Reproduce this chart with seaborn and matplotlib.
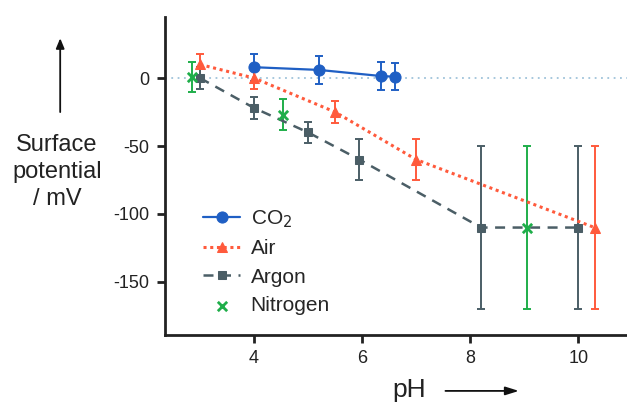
import matplotlib
matplotlib.use("Agg")
import matplotlib.pyplot as plt
import seaborn as sns
import numpy as np

sns.set_style("white")
plt.rcParams['font.family'] = ['Liberation Sans', 'DejaVu Sans']

# Data
co2_ph = [4.0, 5.2, 6.35, 6.6]
co2_mv = [8, 6, 1.5, 1]
co2_err = [10, 10, 10, 10]

air_ph = [3.0, 4.0, 5.5, 7.0, 10.3]
air_mv = [10, 0, -25, -60, -110]
air_err = [8, 8, 8, 15, 60]

argon_ph = [3.0, 4.0, 5.0, 5.95, 8.2, 10.0]
argon_mv = [0, -22, -40, -60, -110, -110]
argon_err = [8, 8, 8, 15, 60, 60]

n2_ph = [2.85, 4.53, 9.05]
n2_mv = [1, -27, -110]
n2_err = [11, 11.5, 60]

c_co2 = "#1f5fc4"
c_air = "#ff5a3c"
c_arg = "#4b5e66"
c_n2 = "#1fae4a"

fig = plt.figure(figsize=(6.27, 4.03), dpi=100)
ax = fig.add_axes([0.263, 0.169, 0.737, 0.789])

ax.axhline(0, color="#9fc3da", linestyle=(0, (1, 2.5)), linewidth=1.3, zorder=1)

ekw = dict(fmt="none", capsize=3, capthick=1.4, elinewidth=1.4)
ax.errorbar(co2_ph, co2_mv, yerr=co2_err, ecolor=c_co2, zorder=3, **ekw)
ax.errorbar(air_ph, air_mv, yerr=air_err, ecolor=c_air, zorder=3, **ekw)
ax.errorbar(argon_ph, argon_mv, yerr=argon_err, ecolor=c_arg, zorder=3, **ekw)
ax.errorbar(n2_ph, n2_mv, yerr=n2_err, ecolor=c_n2, zorder=3, **ekw)

sns.lineplot(x=co2_ph, y=co2_mv, ax=ax, color=c_co2, linewidth=1.6, marker="o",
             markersize=8, markeredgecolor=c_co2, label="CO$_2$", zorder=4)
sns.lineplot(x=air_ph, y=air_mv, ax=ax, color=c_air, linewidth=2.2, marker="^",
             linestyle=(0, (1, 1.2)), markersize=7, markeredgecolor=c_air, label="Air", zorder=4)
sns.lineplot(x=argon_ph, y=argon_mv, ax=ax, color=c_arg, linewidth=1.8, marker="s",
             linestyle=(0, (4, 3)), markersize=6, markeredgecolor=c_arg, label="Argon", zorder=4)
sns.scatterplot(x=n2_ph, y=n2_mv, ax=ax, color=c_n2, marker="x", s=45, linewidth=2,
                label="Nitrogen", zorder=5)

ax.set_xlim(2.35, 10.9)
ax.set_ylim(-189, 45)
ax.set_xticks([4, 6, 8, 10])
ax.set_yticks([0, -50, -100, -150])
ax.set_yticklabels(["0", "-50", "-100", "-150"])
ax.tick_params(axis="both", direction="out", length=6, width=2, color="#222222",
               labelsize=13, labelcolor="#222222", left=True, bottom=True, pad=5)
for s in ["top", "right"]:
    ax.spines[s].set_visible(False)
for s in ["left", "bottom"]:
    ax.spines[s].set_linewidth(2)
    ax.spines[s].set_color("#222222")
ax.set_xlabel("")
ax.set_ylabel("")

leg = ax.legend(loc="upper left", bbox_to_anchor=(0.055, 0.437), frameon=False,
                fontsize=15, labelspacing=0.45, handlelength=1.8, handletextpad=0.5,
                borderaxespad=0.2)

fig.text(0.091, 0.573, "Surface\npotential\n/ mV", ha="center", va="center",
         fontsize=17, color="#222222", linespacing=1.3)
fig.patches.append(matplotlib.patches.FancyArrowPatch(
    (0.096, 0.715), (0.096, 0.912), transform=fig.transFigure,
    arrowstyle="-|>,head_length=6,head_width=2.5", color="#111111", linewidth=1.3))
fig.text(0.652, 0.032, "pH", ha="center", va="center", fontsize=19, color="#222222")
fig.patches.append(matplotlib.patches.FancyArrowPatch(
    (0.706, 0.03), (0.832, 0.03), transform=fig.transFigure,
    arrowstyle="-|>,head_length=8,head_width=2.5", color="#111111", linewidth=1.3))

fig.savefig("out.png", dpi=100)
